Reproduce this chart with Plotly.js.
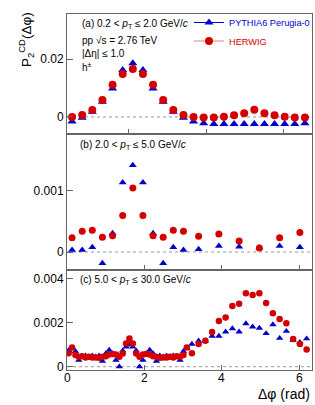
<!DOCTYPE html>
<html>
<head>
<meta charset="utf-8">
<script src="https://cdn.plot.ly/plotly-3.0.1.min.js"></script>
<style>html,body{margin:0;padding:0;background:#fff;}#chart{width:315px;height:405px;}</style>
</head>
<body>
<div id="chart"></div>
<script>
// ---------- data ----------
// panel (a): 0.2 < pT <= 2.0 GeV/c
const phiA = [0.131, 0.393, 0.654, 0.916, 1.178, 1.440, 1.702, 1.963, 2.225, 2.487, 2.749, 3.011,
              3.272, 3.534, 3.796, 4.058, 4.320, 4.581, 4.843, 5.105, 5.367, 5.629, 5.890, 6.152];
const pythiaA = [-0.0016, -0.0003, 0.0018, 0.0053, 0.0099, 0.0163, 0.0186, 0.0163, 0.0099, 0.0053, 0.0018, -0.0003,
                 -0.0016, -0.0022, -0.0024, -0.0024, -0.0024, -0.0024, -0.0024, -0.0024, -0.0024, -0.0024, -0.0024, -0.0022];
const herwigA = [0.0000, 0.0007, 0.0024, 0.0059, 0.0112, 0.0149, 0.0166, 0.0149, 0.0112, 0.0059, 0.0024, 0.0007,
                 0.0000, -0.0002, -0.0002, 0.0001, 0.0006, 0.0013, 0.0025, 0.0013, 0.0006, 0.0001, -0.0002, -0.0002];

// panel (b): 2.0 < pT <= 5.0 GeV/c
const phiB = [0.131, 0.393, 0.654, 0.916, 1.178, 1.440, 1.702, 1.963, 2.225, 2.487, 2.749, 3.011,
              3.403, 3.927, 4.451, 4.974, 5.498, 6.021];
const pythiaB = [0.000033, 0.000033, 0.000077, -0.000186, 0.000306, 0.00114, 0.00142, 0.00114, 0.000306, -0.000186, 0.000077, 0.000033,
                 0.000044, 0.000098, 0.000087, 0.00007, 0.000098, 0.000077];
const herwigB = [0.000234, 0.00034, 0.000355, 0.00024, 0.000267, 0.0006, 0.00105, 0.0006, 0.000267, 0.00024, 0.000355, 0.00034,
                 0.000257, 0.000295, 0.00018, 0.000066, 0.000235, 0.00032];

// panel (c): 5.0 < pT <= 30.0 GeV/c
const phiC = [0.044, 0.131, 0.218, 0.305, 0.393, 0.480, 0.567, 0.654, 0.742, 0.829, 0.916, 1.004,
              1.091, 1.178, 1.265, 1.353, 1.440, 1.527, 1.614, 1.702, 1.789, 1.876, 1.963, 2.051,
              2.138, 2.225, 2.313, 2.400, 2.487, 2.574, 2.662, 2.749, 2.836, 2.923, 3.011, 3.098,
              3.229, 3.403, 3.578, 3.752, 3.927, 4.102, 4.276, 4.451, 4.625, 4.800, 4.974, 5.149,
              5.323, 5.498, 5.672, 5.847, 6.021, 6.196];
const pythiaC = [0.00075, 0.00084, 0.0007, 0.0003, 0.00045, 0.0005, 0.00045, 0.0005, 0.00045, 0.0005, 0.00026, 0.0006,
                 0.00076, 0.0006, 0.0003, 0.0000, 0.00073, 0.0009, 0.0010, 0.0009, 0.00073, 0.0000, 0.0003, 0.0006,
                 0.00076, 0.0006, 0.00026, 0.0005, 0.00045, 0.0005, 0.00045, 0.0005, 0.00045, 0.0003, 0.0007, 0.00084,
                 0.00103, 0.00118, 0.00118, 0.0014, 0.0014, 0.00159, 0.00174, 0.00159, 0.00197, 0.00182, 0.00176, 0.00152,
                 0.00192, 0.0013, 0.00162, 0.0012, 0.00112, 0.00128];
const herwigC = [0.00061, 0.00088, 0.00053, 0.00045, 0.00048, 0.00042, 0.00045, 0.00042, 0.00042, 0.00041, 0.00045, 0.00048,
                 0.00056, 0.00058, 0.00056, 0.00045, 0.0006, 0.00106, 0.00129, 0.00106, 0.0006, 0.00045, 0.00056, 0.00058,
                 0.00056, 0.00048, 0.00045, 0.00041, 0.00042, 0.00042, 0.00045, 0.00042, 0.00048, 0.00045, 0.00053, 0.00088,
                 0.00061, 0.00103, 0.00118, 0.00158, 0.00208, 0.00224, 0.00277, 0.00287, 0.00335, 0.00327, 0.00335, 0.00291,
                 0.00244, 0.00218, 0.00198, 0.00126, 0.00103, 0.00078];

const xTicksAll = [0, 2, 4, 6];
const xTickText = ['0', '2', '4', '6'];
const xTicksA = [1.59, 3.61, 5.61];
const yTicksA = [0, 0.02];
const yTicksB = [0, 0.001];
const yTicksC = [0, 0.002, 0.004];
const yTickTextC = ['0', '0.002', '0.004'];

// ---------- style ----------
const BLUE = '#0000cc', RED = '#d40000', FRAME = '#666666';
const W = 315, H = 405;
const px = v => v / W, py = v => 1 - v / H;
const font = 'Liberation Sans, Arial, Helvetica, sans-serif';

function pyTrace(x, y, xa, ya, size) {
  return {x: x, y: y, xaxis: xa, yaxis: ya, type: 'scatter', mode: 'markers', showlegend: false,
          marker: {symbol: 'triangle-up', color: BLUE, size: size}};
}
function hwTrace(x, y, xa, ya, size) {
  return {x: x, y: y, xaxis: xa, yaxis: ya, type: 'scatter', mode: 'markers', showlegend: false,
          marker: {symbol: 'circle', color: RED, size: size}};
}

const data = [
  pyTrace(phiA, pythiaA, 'x', 'y', 8), hwTrace(phiA, herwigA, 'x', 'y', 8),
  pyTrace(phiB, pythiaB, 'x2', 'y2', 7), hwTrace(phiB, herwigB, 'x2', 'y2', 7),
  pyTrace(phiC, pythiaC, 'x3', 'y3', 6.5), hwTrace(phiC, herwigC, 'x3', 'y3', 6.5),
  {x: [null], y: [null], xaxis: 'x', yaxis: 'y', type: 'scatter', mode: 'lines+markers', legend: 'legend',
   showlegend: true,
   name: '<span style="color:' + BLUE + '">PYTHIA6 Perugia-0</span>',
   marker: {symbol: 'triangle-up', color: BLUE, size: 8}, line: {color: BLUE, width: 1}},
  {x: [null], y: [null], xaxis: 'x', yaxis: 'y', type: 'scatter', mode: 'lines+markers', legend: 'legend2',
   showlegend: true,
   name: '<span style="color:' + RED + '">HERWIG</span>',
   marker: {symbol: 'circle', color: RED, size: 8}, line: {color: '#e08080', width: 1}}
];

const xDom = [px(67), px(312)];
const xRange = [0, 6.335];
function xAxis(anchor, tickvals) {
  return {domain: xDom, range: xRange, anchor: anchor, tickmode: 'array', tickvals: tickvals,
          showticklabels: false, ticks: 'inside', ticklen: 5, tickcolor: FRAME, tickwidth: 1,
          showline: true, linecolor: FRAME, linewidth: 1, mirror: true, showgrid: false, zeroline: false};
}
function yAxis(anchor, dom, range, tickvals, ticktext) {
  const a = {domain: dom, range: range, anchor: anchor, tickmode: 'array', tickvals: tickvals,
          ticks: 'inside', ticklen: 6, tickcolor: FRAME, tickwidth: 1,
          showline: true, linecolor: FRAME, linewidth: 1, mirror: true, showgrid: false, zeroline: false,
          tickfont: {family: font, size: 12, color: '#000'}};
  if (ticktext) a.ticktext = ticktext;
  return a;
}

function zeroLine(yref) {
  return {type: 'line', xref: 'x domain', x0: 0, x1: 1, yref: yref, y0: 0, y1: 0,
          line: {color: '#999999', width: 1, dash: '3px,3px'}, layer: 'below'};
}
function note(text, x, y, size, opts) {
  return Object.assign({text: text, xref: 'paper', yref: 'paper', x: px(x), y: py(y), xanchor: 'left', yanchor: 'middle',
          showarrow: false, font: {family: font, size: size, color: '#000'}}, opts || {});
}
function legendBox(topY) {
  return {x: px(189), y: py(topY), xanchor: 'left', yanchor: 'top', bgcolor: 'rgba(0,0,0,0)',
          font: {family: font, size: 9.2}, itemwidth: 30};
}

// x tick labels of the bottom panel, placed at the x3 axis values
const xTickLabels = xTicksAll.map((v, i) => ({
  text: xTickText[i], xref: 'x3', yref: 'paper', x: v, y: py(377.5), xanchor: 'center', yanchor: 'middle',
  showarrow: false, font: {family: font, size: 12, color: '#000'}
}));

const layout = {
  width: W, height: H, margin: {l: 0, r: 0, t: 0, b: 0}, paper_bgcolor: '#fff', plot_bgcolor: '#fff',
  font: {family: font},
  xaxis: xAxis('y', xTicksA),
  xaxis2: xAxis('y2', xTicksAll),
  xaxis3: xAxis('y3', xTicksAll),
  yaxis: yAxis('x', [py(134), py(14)], [-0.0059, 0.0357], yTicksA),
  yaxis2: yAxis('x2', [py(270), py(134)], [-0.000295, 0.001934], yTicksB),
  yaxis3: yAxis('x3', [py(370), py(270)], [-0.00015, 0.00441], yTicksC, yTickTextC),
  showlegend: true,
  legend: legendBox(8),
  legend2: legendBox(26.5),
  shapes: [zeroLine('y'), zeroLine('y2'), zeroLine('y3')],
  annotations: [
    note('(a) 0.2 &lt; <i>p</i><sub>T</sub> ≤ 2.0 GeV/<i>c</i>', 80, 24, 10),
    note('pp √s = 2.76 TeV', 80, 40, 10),
    note('|Δη| ≤ 1.0', 80, 53.5, 10),
    note('h<sup>±</sup>', 80, 67, 10),
    note('(b) 2.0 &lt; <i>p</i><sub>T</sub> ≤ 5.0 GeV/<i>c</i>', 77.5, 145, 10),
    note('(c) 5.0 &lt; <i>p</i><sub>T</sub> ≤ 30.0 GeV/<i>c</i>', 77.5, 279.5, 10),
    note('P<sub>2</sub><sup>CD</sup>(Δφ)', 26, 40, 13.5, {xanchor: 'center', textangle: -90}),
    note('Δφ (rad)', 312, 393.5, 14, {xanchor: 'right'})
  ].concat(xTickLabels)
};

Plotly.newPlot('chart', data, layout, {staticPlot: true, displayModeBar: false});
</script>
</body>
</html>
